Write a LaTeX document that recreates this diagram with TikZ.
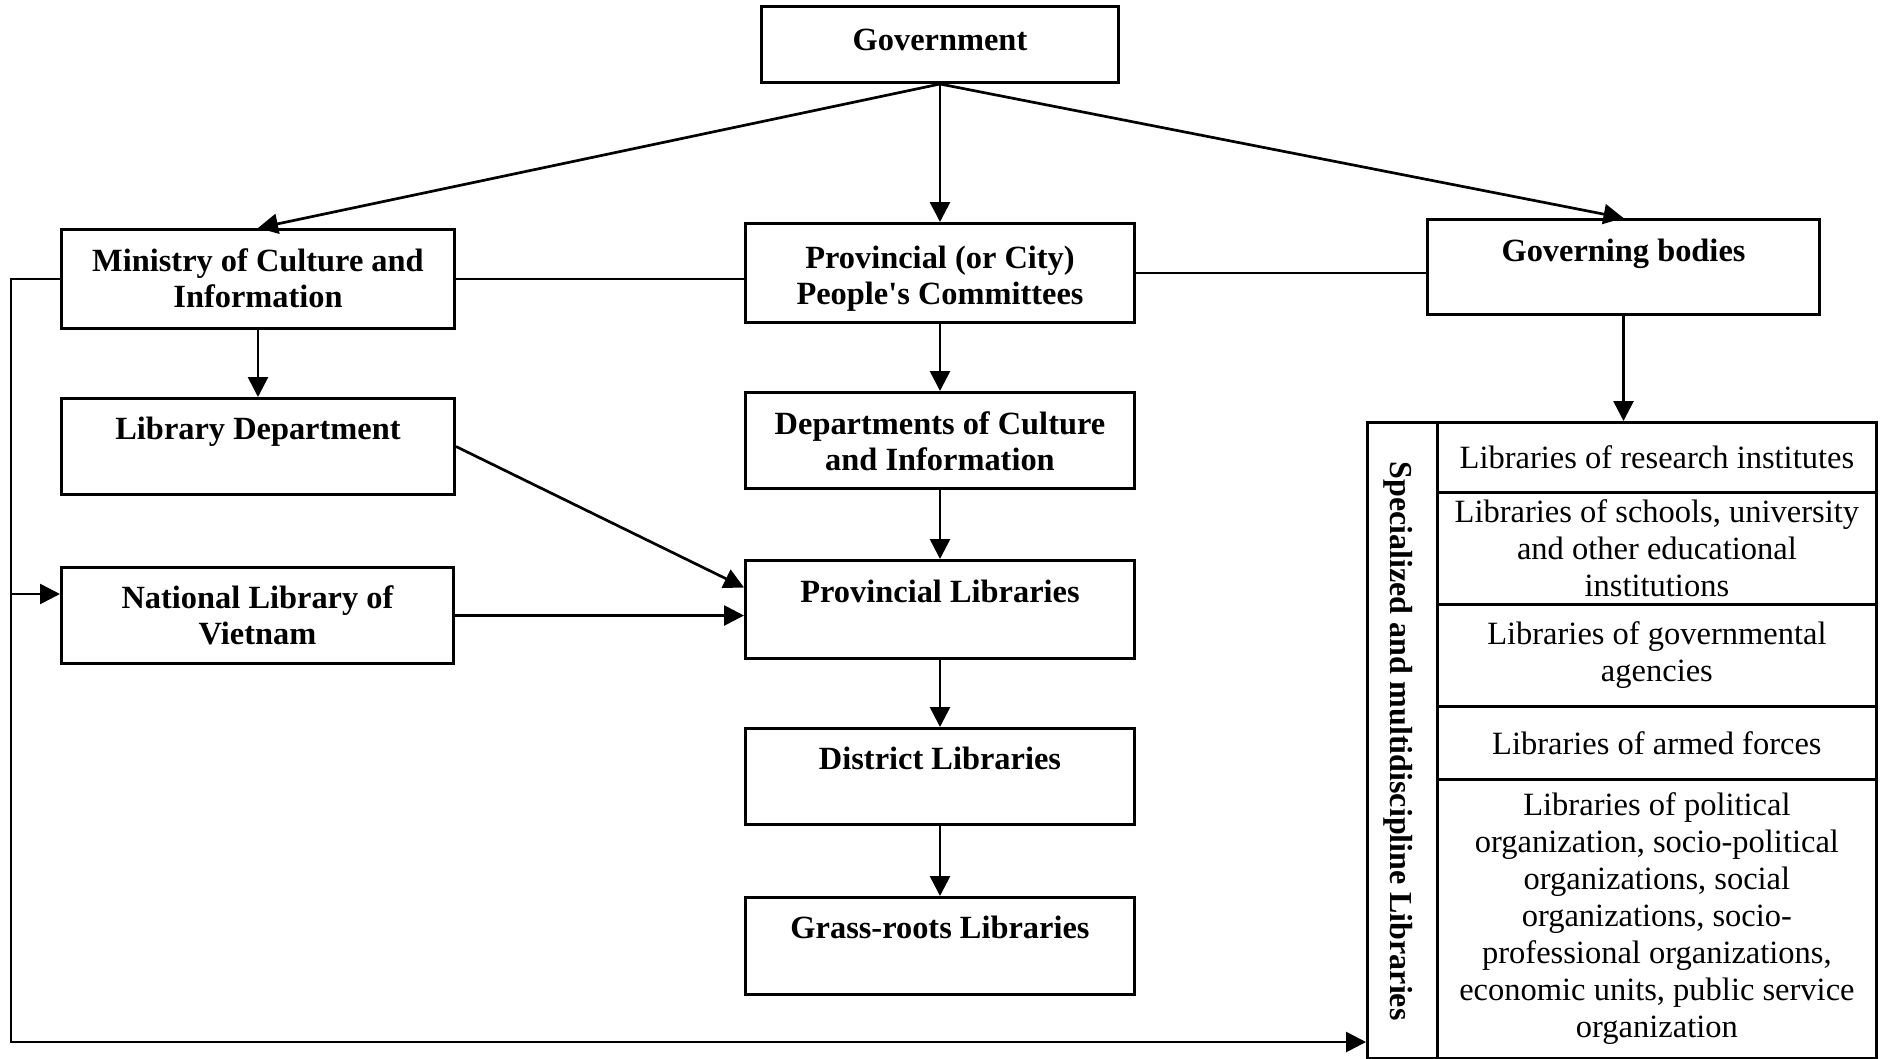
\documentclass[tikz,border=0pt]{standalone}
\usepackage{fontspec}
\setmainfont{Liberation Serif}
\usetikzlibrary{arrows.meta}
\newcommand{\bt}[2][380pt]{\parbox[t]{#1}{\centering #2}}
\newcommand{\sq}{{\XeTeXglyph\XeTeXcharglyph"0027\relax}}
\begin{document}
\begin{tikzpicture}[x=1pt,y=-1pt,
  box/.style={draw, line width=3pt, inner sep=0pt, anchor=north west,
    font=\bfseries\fontsize{32.4}{36}\selectfont},
  row/.style={draw, line width=2.8pt, inner sep=0pt, anchor=north west,
    minimum width=439pt, align=center, font=\fontsize{32.5}{37}\selectfont},
  arr/.style={line width=2.7pt, -{Triangle[length=20pt,width=20pt]}},
  con/.style={line width=2.7pt}]
\useasboundingbox (0,0) rectangle (1882,1058);

% left column
\node[box, minimum width=393pt, text height=42pt, text depth=57pt] (min) at (60,228) {\bt{Ministry of Culture and\\Information}};
\node[box, minimum width=393pt, text height=41pt, text depth=55pt] (ld) at (60,397) {\bt{Library Department}};
\node[box, minimum width=392pt, text height=41pt, text depth=55pt] (nat) at (60,566) {\bt{National Library of\\Vietnam}};

% centre column
\node[box, minimum width=357pt, text height=44pt, text depth=32pt] (gov) at (760,5) {\bt[340pt]{Government}};
\node[box, minimum width=389pt, text height=45pt, text depth=54pt] (pc) at (744,222) {\bt{Provincial (or City)\\People\sq s Committees}};
\node[box, minimum width=389pt, text height=42pt, text depth=54pt] (dci) at (744,391) {\bt{Departments of Culture\\and Information}};
\node[box, minimum width=389pt, text height=42pt, text depth=56pt] (pl) at (744,559) {\bt{Provincial Libraries}};
\node[box, minimum width=389pt, text height=41pt, text depth=55pt] (dl) at (744,727) {\bt{District Libraries}};
\node[box, minimum width=389pt, text height=41pt, text depth=56pt] (gl) at (744,896) {\bt{Grass-roots Libraries}};

% right column
\node[box, minimum width=392pt, text height=42pt, text depth=53pt] (gb) at (1426,218) {\bt{Governing bodies}};
\node[draw, line width=2.8pt, inner sep=0pt, anchor=north west, minimum width=70pt, minimum height=636pt] (spec) at (1366,421) {};
\node[rotate=-90, anchor=base, inner sep=0pt, font=\bfseries\fontsize{32}{36}\selectfont] (spectxt) at (1390,741) {Specialized and multidiscipline Libraries};
\node[row, minimum height=70pt] (r1) at (1436,421) {Libraries of research institutes};
\node[row, minimum height=112pt] (r2) at (1436,491) {Libraries of schools, university\\and other educational\\institutions};
\node[row, minimum height=102pt] (r3) at (1436,603) {Libraries of governmental\\agencies};
\node[row, minimum height=73pt] (r4) at (1436,705) {Libraries of armed forces};
\node[row, minimum height=279pt] (r5) at (1436,778) {Libraries of political\\organization, socio-political\\organizations, social\\organizations, socio-\\professional organizations,\\economic units, public service\\organization};

% connectors
\draw[arr] (gov.south) -- (min.north);
\draw[arr] (gov.south) -- (pc.north);
\draw[arr] (gov.south) -- (gb.north);
\draw[con] (min.east) -- (min.east -| pc.west);
\draw[con] (pc.east) -- (pc.east -| gb.west);
\draw[arr] (min.south) -- (ld.north);
\draw[arr] (pc.south) -- (dci.north);
\draw[arr] (dci.south) -- (pl.north);
\draw[arr] (pl.south) -- (dl.north);
\draw[arr] (dl.south) -- (gl.north);
\draw[arr] (ld.east) -- ([yshift=22pt]pl.west);
\draw[arr] (nat.east) -- (nat.east -| pl.west);
\draw[arr] (gb.south) -- (gb.south |- r1.north);

\coordinate (lb) at (11,1042);
\coordinate (lm) at (11,594);
\draw[arr] (min.west) -| (lb) -- (lb -| spec.west);
\draw[arr] (lm) -- (lm -| nat.west);
\end{tikzpicture}
\end{document}
